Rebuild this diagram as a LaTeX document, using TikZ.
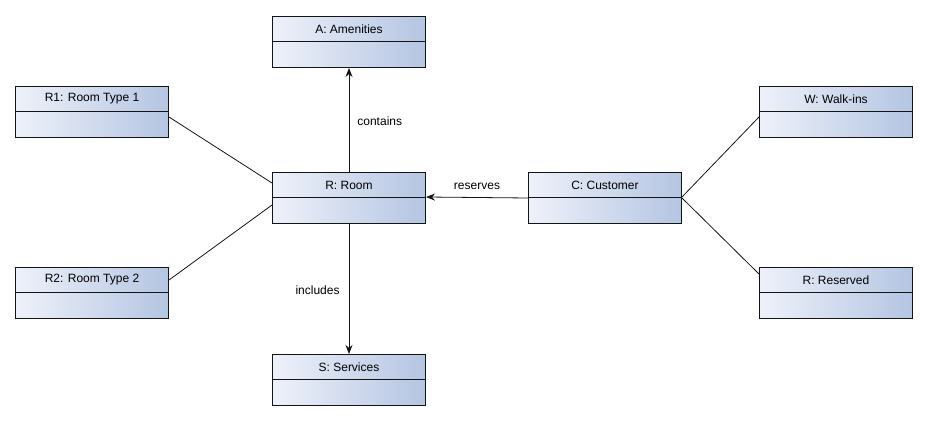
\documentclass[tikz,border=0pt]{standalone}
\usepackage{fontspec}
\setmainfont{Liberation Sans}
\usetikzlibrary{arrows.meta}
\definecolor{boxL}{RGB}{238,241,250}
\definecolor{boxR}{RGB}{180,197,226}
\definecolor{edge}{RGB}{20,20,20}
\tikzset{
  umlbox/.style={draw=edge, line width=1pt, rectangle, anchor=north west,
    minimum width=153pt, minimum height=51pt, inner sep=0pt,
    left color=boxL, right color=boxR},
  lbl/.style={font=\fontsize{12}{14}\selectfont, inner sep=0pt},
  conn/.style={draw=edge, line width=0.8pt},
  arr/.style={conn, -{Stealth[length=9pt,width=7pt]}}
}
\newcommand{\umlobj}[4]{%
  \node[umlbox] (#1) at (#2,#3) {};
  \draw[edge, line width=1pt] ([yshift=-25.5pt]#1.north west) -- ([yshift=-25.5pt]#1.north east);
  \node[lbl] (#1t) at ([yshift=-13pt]#1.north) {#4};
}
\begin{document}
\begin{tikzpicture}[x=1pt,y=-1pt]
\useasboundingbox (0,0) rectangle (927,422);
\umlobj{A}{272}{16}{A: Amenities}
\umlobj{Ra}{15}{86}{R1: Room Type 1}
\umlobj{Rb}{15}{267}{R2: Room Type 2}
\umlobj{Rm}{272}{172}{R: Room}
\umlobj{S}{272}{354}{S: Services}
\umlobj{C}{528}{172}{C: Customer}
\umlobj{W}{759}{86}{W: Walk-ins}
\umlobj{Rs}{759}{267}{R: Reserved}
% connectors
\draw[arr] (Rm.north) -- (A.south) node[lbl, midway, right=8pt, yshift=-1pt] {contains};
\draw[arr] (Rm.south) -- (S.north) node[lbl, pos=0.5, left=9pt, yshift=-1pt] {includes};
\draw[arr] ([yshift=-26pt]C.north west) -- ([yshift=-25pt]Rm.north east) node[lbl, midway, above=7pt] (rl) {reserves};
\draw[conn] ([yshift=-31pt]Ra.north east) -- ([yshift=-11pt]Rm.north west);
\draw[conn] ([yshift=-13pt]Rb.north east) -- ([yshift=-33pt]Rm.north west);
\draw[conn] ([yshift=-25pt]C.north east) -- ([yshift=-31pt]W.north west);
\draw[conn] ([yshift=-26pt]C.north east) -- ([yshift=-7pt]Rs.north west);
\end{tikzpicture}
\end{document}
